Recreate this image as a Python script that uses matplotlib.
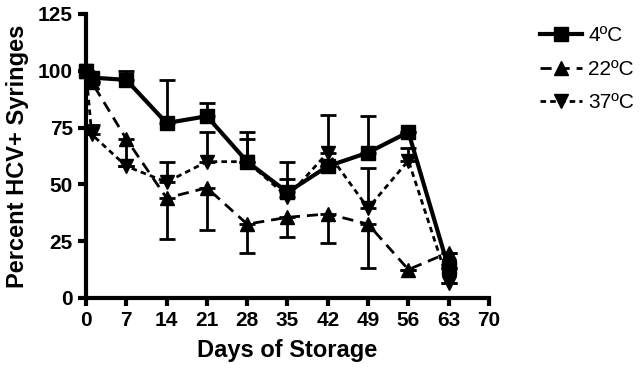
import matplotlib
matplotlib.use("Agg")
import matplotlib.pyplot as plt
from matplotlib.lines import Line2D

days = [0, 1, 7, 14, 21, 28, 35, 42, 49, 56, 63]

c4 = [100, 97, 96, 77, 80, 60, 46.5, 58, 64, 73, 13]
c4_lo = [0, 0, 0, 0, 0, 0, 0, 0, 0, 0, 0]
c4_hi = [0, 0, 4, 19, 6, 13, 13.5, 0, 16, 0, 0]

c22 = [100, 95, 70, 44, 48.5, 32.5, 35.5, 37, 32.5, 12.5, 20]
c22_lo = [0, 0, 12, 18, 18.5, 12.5, 8.5, 13, 19.5, 0, 0]
c22_hi = [0, 0, 0, 0, 0, 0, 0, 0, 0, 0, 0]

c37 = [100, 72, 58, 51, 60, 60, 44.5, 64, 39.5, 60.5, 6.5]
c37_lo = [0, 0, 0, 0, 0, 0, 0, 0, 0, 0, 0]
c37_hi = [0, 4, 0, 9, 13, 10, 8, 16.5, 17.5, 5.5, 0]

labels = ["4ºC", "22ºC", "37ºC"]

plt.rcParams["font.family"] = ["Liberation Sans", "DejaVu Sans"]

fig = plt.figure(figsize=(6.44, 3.73), dpi=100)
ax = fig.add_axes([0.1335, 0.2011, 0.6258, 0.7614])

styles = [("-", 3, "s"), ((0, (4, 2.5)), 2, "^"), ((0, (2, 1.5)), 2, "v")]
series = [(c4, c4_lo, c4_hi), (c22, c22_lo, c22_hi), (c37, c37_lo, c37_hi)]
handles = []
for (vals, lo, hi), (ls, lw, mk), lab in zip(series, styles, labels):
    ax.errorbar(days, vals, yerr=[lo, hi], color="black", lw=lw, ls=ls,
                marker=mk, ms=10, capsize=6, elinewidth=2, capthick=2,
                clip_on=False, zorder=3 if mk == "s" else 2)
    handles.append(Line2D([], [], color="black", lw=lw, ls=ls, marker=mk, ms=10, label=lab))

ax.set_xlim(0, 70)
ax.set_ylim(0, 125)
ax.set_xticks(range(0, 71, 7))
ax.set_yticks([0, 25, 50, 75, 100, 125])
for s in ["top", "right"]:
    ax.spines[s].set_visible(False)
for s in ["left", "bottom"]:
    ax.spines[s].set_linewidth(3)
ax.tick_params(width=3, length=6, labelsize=15)
for lab in ax.get_xticklabels() + ax.get_yticklabels():
    lab.set_fontweight("bold")
    lab.set_family(["Liberation Sans Narrow", "Liberation Sans"])

ax.set_xlabel("Days of Storage", fontsize=17, fontweight="bold", labelpad=6)
ax.set_ylabel("Percent HCV+ Syringes", fontsize=17, fontweight="bold", labelpad=6)

ax.legend(handles=handles, loc="upper left", bbox_to_anchor=(0.81, 0.98),
          bbox_transform=fig.transFigure, frameon=False, fontsize=15,
          handlelength=2.0, labelspacing=0.7, handletextpad=0.3)

fig.savefig("out.png", dpi=100)
